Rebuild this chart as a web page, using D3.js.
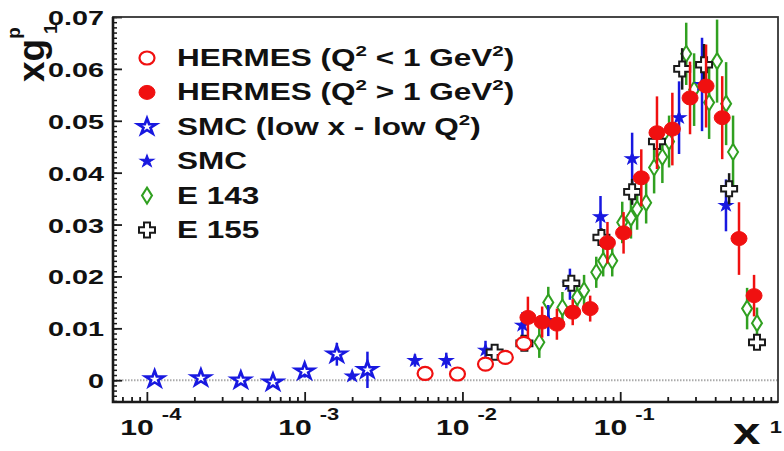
<!DOCTYPE html>
<html>
<head>
<meta charset="utf-8">
<script src="https://cdn.jsdelivr.net/npm/d3@7"></script>
<style>
  html, body { margin: 0; padding: 0; background: #fff; }
  svg text { font-family: "Liberation Sans", Arial, sans-serif; font-weight: bold; fill: #111; }
</style>
</head>
<body>
<div id="chart"></div>
<script>
// HERMES Q2 < 1 GeV2 (open circles)
const hermesLowX = [0.0058, 0.0093, 0.014, 0.0187, 0.0245]
const hermesLowY = [0.0013, 0.0012, 0.0031, 0.0044, 0.0071]
const hermesLowE = [0.0005, 0.0005, 0.0008, 0.0012, 0.0012]

// HERMES Q2 > 1 GeV2 (filled circles)
const hermesHighX = [0.026, 0.032, 0.0397, 0.050, 0.0645, 0.083, 0.105, 0.136, 0.171, 0.214, 0.277, 0.35, 0.443, 0.566, 0.705]
const hermesHighY = [0.0121, 0.0112, 0.0108, 0.0131, 0.0138, 0.0265, 0.0284, 0.039, 0.0477, 0.0484, 0.0544, 0.0567, 0.0506, 0.0273, 0.0163]
const hermesHighE = [0.004, 0.003, 0.003, 0.0025, 0.0025, 0.004, 0.004, 0.0055, 0.007, 0.007, 0.007, 0.008, 0.008, 0.007, 0.004]

// SMC low x - low Q2 (open stars)
const smcLowX = [0.000112, 0.00022, 0.000394, 0.00063, 0.0010, 0.0016, 0.0025]
const smcLowY = [0.0002, 0.0004, 0.0, -0.0004, 0.0017, 0.0050, 0.0020]
const smcLowE = [0.0003, 0.0003, 0.0003, 0.0004, 0.0012, 0.0022, 0.0035]

// SMC (filled stars)
const smcX = [0.0020, 0.0050, 0.0079, 0.014, 0.024, 0.035, 0.048, 0.075, 0.119, 0.236, 0.33, 0.468]
const smcY = [0.0008, 0.0038, 0.0038, 0.0058, 0.0106, 0.0115, 0.0185, 0.0315, 0.0427, 0.0506, 0.057, 0.0337]
const smcE = [0.0004, 0.0012, 0.0015, 0.0018, 0.0025, 0.003, 0.003, 0.004, 0.005, 0.007, 0.009, 0.005]

// E 143 (open diamonds)
const e143X = [0.0307, 0.035, 0.043, 0.0534, 0.059, 0.0705, 0.078, 0.089, 0.103, 0.117, 0.128, 0.146, 0.164, 0.185, 0.204, 0.262, 0.294, 0.366, 0.411, 0.469, 0.519, 0.637, 0.736]
const e143Y = [0.0073, 0.015, 0.014, 0.016, 0.0173, 0.0208, 0.023, 0.023, 0.0304, 0.0313, 0.033, 0.0342, 0.041, 0.043, 0.046, 0.0629, 0.056, 0.0535, 0.0615, 0.0533, 0.044, 0.0138, 0.011]
const e143E = [0.003, 0.003, 0.003, 0.003, 0.003, 0.003, 0.003, 0.003, 0.004, 0.004, 0.004, 0.004, 0.005, 0.005, 0.005, 0.006, 0.007, 0.007, 0.008, 0.008, 0.007, 0.004, 0.003]

// E 155 (open crosses)
const e155X = [0.016, 0.0247, 0.049, 0.076, 0.119, 0.171, 0.247, 0.34, 0.49, 0.736]
const e155Y = [0.0054, 0.0071, 0.0187, 0.0275, 0.0363, 0.046, 0.0600, 0.0608, 0.0369, 0.0073]
const e155E = [0.0006, 0.0008, 0.0012, 0.0018, 0.0025, 0.003, 0.004, 0.004, 0.003, 0.0008]

const yTicks = [0, 0.01, 0.02, 0.03, 0.04, 0.05, 0.06, 0.07]
const yTickLabels = ['0', '0.01', '0.02', '0.03', '0.04', '0.05', '0.06', '0.07']
const xTicks = [1e-4, 1e-3, 1e-2, 1e-1]
const xTickExps = ['-4', '-3', '-2', '-1']

const legendNames = [
    ['HERMES (Q', '2', ' < 1 GeV', '2', ')'],
    ['HERMES (Q', '2', ' > 1 GeV', '2', ')'],
    ['SMC (low x - low Q', '2', ')'],
    ['SMC'],
    ['E 143'],
    ['E 155']
]

const width = 784
const height = 451
const plotLeft = 113
const plotRight = 778
const plotTop = 17
const plotBottom = 402
const sx = 1.37 // horizontal stretch of the text

const red = '#f01010'
const blue = '#1818e0'
const green = '#30a020'
const black = '#1a1a1a'

const svg = d3.select('#chart')
    .append('svg')
    .attr('width', width)
    .attr('height', height)

const x = d3.scaleLog()
    .domain([6.1e-5, 1])
    .range([plotLeft, plotRight])

const y = d3.scaleLinear()
    .domain([-0.0042, 0.07])
    .range([plotBottom, plotTop])

// zero line
svg.append('line')
    .attr('x1', plotLeft).attr('x2', plotRight)
    .attr('y1', y(0)).attr('y2', y(0))
    .attr('stroke', '#aaa')
    .attr('stroke-width', 2)
    .attr('stroke-dasharray', '1.5,1.5')

// marker shapes
const circlePath = (rx, ry) => `M${-rx},0A${rx},${ry} 0 1,0 ${rx},0A${rx},${ry} 0 1,0 ${-rx},0Z`
const diamondPath = (w, h) => `M0,${-h}L${w},0L0,${h}L${-w},0Z`
const crossPath = (a, l, b, m) => `M${-a},${-m}L${a},${-m}L${a},${-b}L${l},${-b}L${l},${b}L${a},${b}L${a},${m}L${-a},${m}L${-a},${b}L${-l},${b}L${-l},${-b}L${-a},${-b}Z`
const starBig = d3.symbol(d3.symbolStar, 80)()
const starSmall = d3.symbol(d3.symbolStar, 45)()

const styles = {
    hermesLow: { d: circlePath(7.5, 6.5), fill: '#fff', stroke: red, sw: 2.2, t: 'scale(1,1)' },
    hermesHigh: { d: circlePath(8, 7), fill: red, stroke: red, sw: 1, t: 'scale(1,1)' },
    smcLow: { d: starBig, fill: '#fff', stroke: blue, sw: 2.4, t: 'scale(1.15,1)' },
    smc: { d: starSmall, fill: blue, stroke: blue, sw: 1, t: 'scale(1.15,1)' },
    e143: { d: diamondPath(5, 8), fill: '#fff', stroke: green, sw: 2, t: 'scale(1,1)' },
    e155: { d: crossPath(3, 8, 2.8, 7.5), fill: '#fff', stroke: black, sw: 2, t: 'scale(1,1)' }
}

function drawSeries(xs, ys, es, color, st) {
    const g = svg.append('g')
    g.selectAll('line')
        .data(xs)
        .enter()
        .append('line')
        .attr('x1', d => x(d))
        .attr('x2', d => x(d))
        .attr('y1', (d, i) => y(ys[i] + es[i]))
        .attr('y2', (d, i) => y(ys[i] - es[i]))
        .attr('stroke', color)
        .attr('stroke-width', 2.5)
    g.selectAll('path')
        .data(xs)
        .enter()
        .append('path')
        .attr('transform', (d, i) => `translate(${x(d)},${y(ys[i])}) ${st.t}`)
        .attr('d', st.d)
        .attr('fill', st.fill)
        .attr('stroke', st.stroke)
        .attr('stroke-width', st.sw)
}

drawSeries(e143X, e143Y, e143E, green, styles.e143)
drawSeries(smcLowX, smcLowY, smcLowE, blue, styles.smcLow)
drawSeries(smcX, smcY, smcE, blue, styles.smc)
drawSeries(e155X, e155Y, e155E, black, styles.e155)
drawSeries(hermesLowX, hermesLowY, hermesLowE, red, styles.hermesLow)
drawSeries(hermesHighX, hermesHighY, hermesHighE, red, styles.hermesHigh)

// axes ticks (inside the frame)
svg.append('g')
    .attr('transform', `translate(${plotLeft},0)`)
    .call(d3.axisLeft(y).tickValues(d3.range(-4, 71).map(v => v / 1000)).tickSize(-4).tickFormat(''))
    .call(g => g.select('.domain').remove())
    .selectAll('line').attr('stroke', black).attr('stroke-width', 1.5)

svg.append('g')
    .attr('transform', `translate(${plotLeft},0)`)
    .call(d3.axisLeft(y).tickValues(yTicks).tickSize(-9).tickFormat(''))
    .call(g => g.select('.domain').remove())
    .selectAll('line').attr('stroke', black).attr('stroke-width', 1.8)

const minorX = []
for (let e = -5; e <= -1; e++) {
    for (let k = 2; k <= 9; k++) {
        const v = k * Math.pow(10, e)
        if (v > 6.1e-5 && v < 1) minorX.push(v)
    }
}

svg.append('g')
    .attr('transform', `translate(0,${plotBottom})`)
    .call(d3.axisBottom(x).tickValues(minorX).tickSize(-5).tickFormat(''))
    .call(g => g.select('.domain').remove())
    .selectAll('line').attr('stroke', black).attr('stroke-width', 1.8)

svg.append('g')
    .attr('transform', `translate(0,${plotBottom})`)
    .call(d3.axisBottom(x).tickValues(xTicks).tickSize(-10).tickFormat(''))
    .call(g => g.select('.domain').remove())
    .selectAll('line').attr('stroke', black).attr('stroke-width', 1.8)

// frame
svg.append('rect')
    .attr('x', plotLeft).attr('y', plotTop)
    .attr('width', plotRight - plotLeft).attr('height', plotBottom - plotTop)
    .attr('fill', 'none')
    .attr('stroke', '#333')
    .attr('stroke-width', 1.8)
svg.append('path')
    .attr('d', `M${plotLeft},${plotTop}V${plotBottom}H${plotRight}`)
    .attr('fill', 'none')
    .attr('stroke', black)
    .attr('stroke-width', 2.6)

// stretched text helper
function stretchedText(px, py, size, anchor) {
    return svg.append('text')
        .attr('transform', `translate(${px},${py}) scale(${sx},1)`)
        .attr('font-size', size)
        .attr('text-anchor', anchor)
}

// y tick labels
yTicks.forEach((v, i) => {
    stretchedText(104, y(v) + 8, 21, 'end').text(yTickLabels[i])
})

// x tick labels 10^n
xTicks.forEach((v, i) => {
    stretchedText(x(v) + 7, 435, 22, 'end').text('10')
    stretchedText(x(v) + 15, 420, 16, 'start').text(xTickExps[i])
})
stretchedText(782, 433, 16, 'end').text('1')

// axis titles
stretchedText(733, 444, 36, 'start').text('x')

const yt = svg.append('text')
    .attr('transform', 'translate(44,82) rotate(-90)')
    .attr('font-size', 37)
yt.append('tspan').text('xg')
yt.append('tspan').attr('font-size', 19).attr('dy', -24).text('p')
yt.append('tspan').attr('font-size', 19).attr('x', 48).attr('dy', 37).text('1')

// legend
const legendKeys = ['hermesLow', 'hermesHigh', 'smcLow', 'smc', 'e143', 'e155']
const legendY = d3.scaleLinear().domain([0, 5]).range([58, 230])

legendKeys.forEach((k, i) => {
    const st = styles[k]
    svg.append('path')
        .attr('transform', `translate(147,${legendY(i)}) ${st.t}`)
        .attr('d', st.d)
        .attr('fill', st.fill)
        .attr('stroke', st.stroke)
        .attr('stroke-width', st.sw)

    const t = stretchedText(177, legendY(i) + 8, 23, 'start')
    legendNames[i].forEach((part, j) => {
        const sup = part === '2'
        const prevSup = j > 0 && legendNames[i][j - 1] === '2'
        t.append('tspan')
            .attr('font-size', sup ? 15 : 23)
            .attr('dy', sup ? -10 : (prevSup ? 10 : 0))
            .text(part)
    })
})
</script>
</body>
</html>
